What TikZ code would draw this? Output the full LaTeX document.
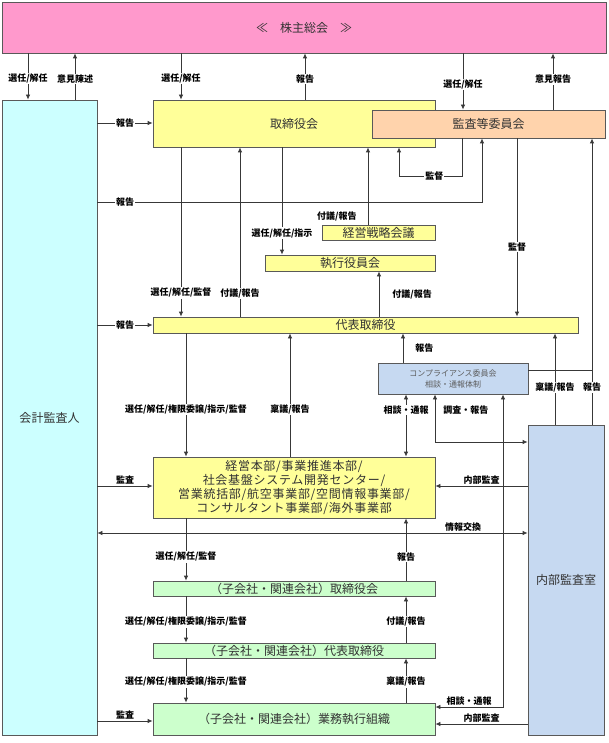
\documentclass[tikz,border=0pt]{standalone}
\usepackage{fontspec}
\setmainfont{Noto Sans CJK JP}
\usetikzlibrary{arrows.meta,positioning}
\definecolor{pinkbox}{HTML}{FF99CC}
\definecolor{cyanbox}{HTML}{CCFFFF}
\definecolor{yellowbox}{HTML}{FFFF99}
\definecolor{peachbox}{HTML}{FFD3AC}
\definecolor{bluebox}{HTML}{C6D9F1}
\definecolor{greenbox}{HTML}{CCFFCC}
\definecolor{boxline}{HTML}{595959}
\definecolor{arrowline}{HTML}{383838}
\definecolor{boxtext}{HTML}{333333}

\begin{document}
\begin{tikzpicture}[x=1pt, y=-1pt, >={Latex[length=5pt,width=4.5pt]},
  box/.style={draw=boxline, line width=0.8pt, inner sep=0pt, text=boxtext,
    font=\fontsize{12}{14}\selectfont, align=center},
  lbl/.style={fill=white, inner sep=1pt, text=black, font=\fontsize{9}{10}\selectfont\bfseries},
  conn/.style={draw=arrowline, line width=0.8pt}]
\useasboundingbox (0,0) rectangle (608,743);

% boxes
\node[box, fill=pinkbox, minimum width=604, minimum height=51] (soukai) at (304,27.5) {≪　株主総会　≫};
\node[box, fill=cyanbox, minimum width=95, minimum height=635] (kaikei) at (49.5,417.5) {会計監査人};
\node[box, fill=yellowbox, minimum width=282, minimum height=47] (torishimari) at (294,123.5) {取締役会};
\node[box, fill=peachbox, minimum width=233, minimum height=28] (kansatou) at (488.5,124) {監査等委員会};
\node[box, fill=yellowbox, minimum width=113, minimum height=15] (senryaku) at (378.5,232.5) {経営戦略会議};
\node[box, fill=yellowbox, minimum width=170, minimum height=16] (shikko) at (350,263) {執行役員会};
\node[box, fill=yellowbox, minimum width=425, minimum height=16] (daihyo) at (365.5,325) {代表取締役};
\node[box, fill=bluebox, minimum width=150, minimum height=31, text=boxtext!80,
  font=\fontsize{8}{11}\selectfont] (comp) at (453,378.5) {コンプライアンス委員会\\相談・通報体制};
\node[box, fill=yellowbox, minimum width=282, minimum height=61,
  font=\fontsize{12}{14}\selectfont\addfontfeatures{LetterSpace=6}]
  (honbu) at (294,487.5) {経営本部/事業推進本部/\\社会基盤システム開発センター/\\営業統括部/航空事業部/空間情報事業部/\\コンサルタント事業部/海外事業部};
\node[box, fill=bluebox, minimum width=76, minimum height=310] (naibu) at (566,580) {内部監査室};
\node[box, fill=greenbox, minimum width=282, minimum height=15] (kotori) at (294,588.5) {（子会社・関連会社）取締役会};
\node[box, fill=greenbox, minimum width=282, minimum height=15] (kodaihyo) at (294,650.5) {（子会社・関連会社）代表取締役};
\node[box, fill=greenbox, minimum width=282, minimum height=32] (gyomu) at (294,719) {（子会社・関連会社）業務執行組織};

% shareholders
\foreach \x/\n in {28/kaikei, 181/torishimari, 463/kansatou}
  \draw[conn,->] (soukai.south -| \x,0) -- node[lbl,pos=0.55]{選任/解任} (\n.north -| \x,0);
\foreach \x/\n/\t/\p in {75/kaikei/意見陳述/0.45, 305/torishimari/報告/0.45, 553/kansatou/意見報告/0.54}
  \draw[conn,->] (\n.north -| \x,0) -- node[lbl,pos=\p]{\t} (soukai.south -| \x,0);

% accounting auditor
\foreach \y/\n in {123/torishimari, 325/daihyo}
  \draw[conn,->] (kaikei.east |- 0,\y) -- node[lbl]{報告} (\n.west |- 0,\y);
\draw[conn,->] (kaikei.east |- 0,202) -| node[lbl,pos=0.036]{報告} (kansatou.south -| 482,0);
\foreach \y/\n in {486/honbu, 721/gyomu}
  \draw[conn,->] (kaikei.east |- 0,\y) -- node[lbl,above,fill=none]{監査} (\n.west |- 0,\y);
\draw[conn,<->] (kaikei.east |- 0,533) -- node[lbl,above,fill=none,pos=0.85]{情報交換} (naibu.west |- 0,533);

% board
\draw[conn,->] (kansatou.south -| 462,0) -- ++(0,38) -| node[lbl,pos=0.22]{監督} (torishimari.south -| 399,0);
\draw[conn,->] (torishimari.south -| 181,0) -- node[lbl,pos=0.86]{選任/解任/監督} (daihyo.north -| 181,0);
\draw[conn,->] (daihyo.north -| 240,0) -- node[lbl,pos=0.135]{付議/報告} (torishimari.south -| 240,0);
\draw[conn,->] (torishimari.south -| 282,0) -- node[lbl,pos=0.8]{選任/解任/指示} (shikko.north -| 282,0);
\draw[conn,->] (senryaku.north -| 368,0) -- node[lbl,fill=none,left=10pt,pos=0.1]{付議/報告} (torishimari.south -| 368,0);
\draw[conn,->] (daihyo.north -| 379,0) -- node[lbl,fill=none,right=12pt,midway]{付議/報告} (shikko.south -| 379,0);
\draw[conn,->] (kansatou.south -| 517,0) -- node[lbl,pos=0.61]{監督} (daihyo.north -| 517,0);

% internal audit and compliance
\draw[conn,->] (naibu.north -| 592,0) -- node[lbl,pos=0.13]{報告} (kansatou.south -| 592,0);
\draw[conn] (comp.east |- 0,370) -- ++(64,0);
\draw[conn,->] (naibu.north -| 555,0) -- node[lbl,pos=0.41]{稟議/報告} (daihyo.south -| 555,0);
\draw[conn,->] (comp.north -| 403,0) -- node[lbl,fill=none,right=11pt,midway]{報告} (daihyo.south -| 403,0);
\draw[conn,<->] (comp.south -| 406,0) -- node[lbl,pos=0.25]{相談・通報} (honbu.north -| 406,0);
\draw[conn,<->] (comp.south -| 435,0) |- node[lbl,fill=none,right=7pt,pos=0.17]{調査・報告} (naibu.west |- 0,442);
\draw[conn,<->] (gyomu.east |- 0,707) -| node[lbl,fill=none,above,pos=0.25]{相談・通報} (comp.south -| 503,0);
\foreach \y/\n in {486/honbu, 724/gyomu}
  \draw[conn,->] (naibu.west |- 0,\y) -- node[lbl,above,fill=none]{内部監査} (\n.east |- 0,\y);

% head office and group companies
\draw[conn,->] (daihyo.south -| 186,0) -- node[lbl,pos=0.62]{選任/解任/権限委譲/指示/監督} (honbu.north -| 186,0);
\draw[conn,->] (honbu.north -| 290,0) -- node[lbl,pos=0.38]{稟議/報告} (daihyo.south -| 290,0);
\draw[conn,->] (honbu.south -| 186,0) -- node[lbl,pos=0.62]{選任/解任/監督} (kotori.north -| 186,0);
\draw[conn,->] (kotori.north -| 406,0) -- node[lbl,pos=0.38]{報告} (honbu.south -| 406,0);
\draw[conn,->] (kotori.south -| 186,0) -- node[lbl,pos=0.55]{選任/解任/権限委譲/指示/監督} (kodaihyo.north -| 186,0);
\draw[conn,->] (kodaihyo.north -| 406,0) -- node[lbl,pos=0.45]{付議/報告} (kotori.south -| 406,0);
\draw[conn,->] (kodaihyo.south -| 186,0) -- node[lbl,pos=0.53]{選任/解任/権限委譲/指示/監督} (gyomu.north -| 186,0);
\draw[conn,->] (gyomu.north -| 406,0) -- node[lbl,pos=0.47]{稟議/報告} (kodaihyo.south -| 406,0);
\end{tikzpicture}
\end{document}
